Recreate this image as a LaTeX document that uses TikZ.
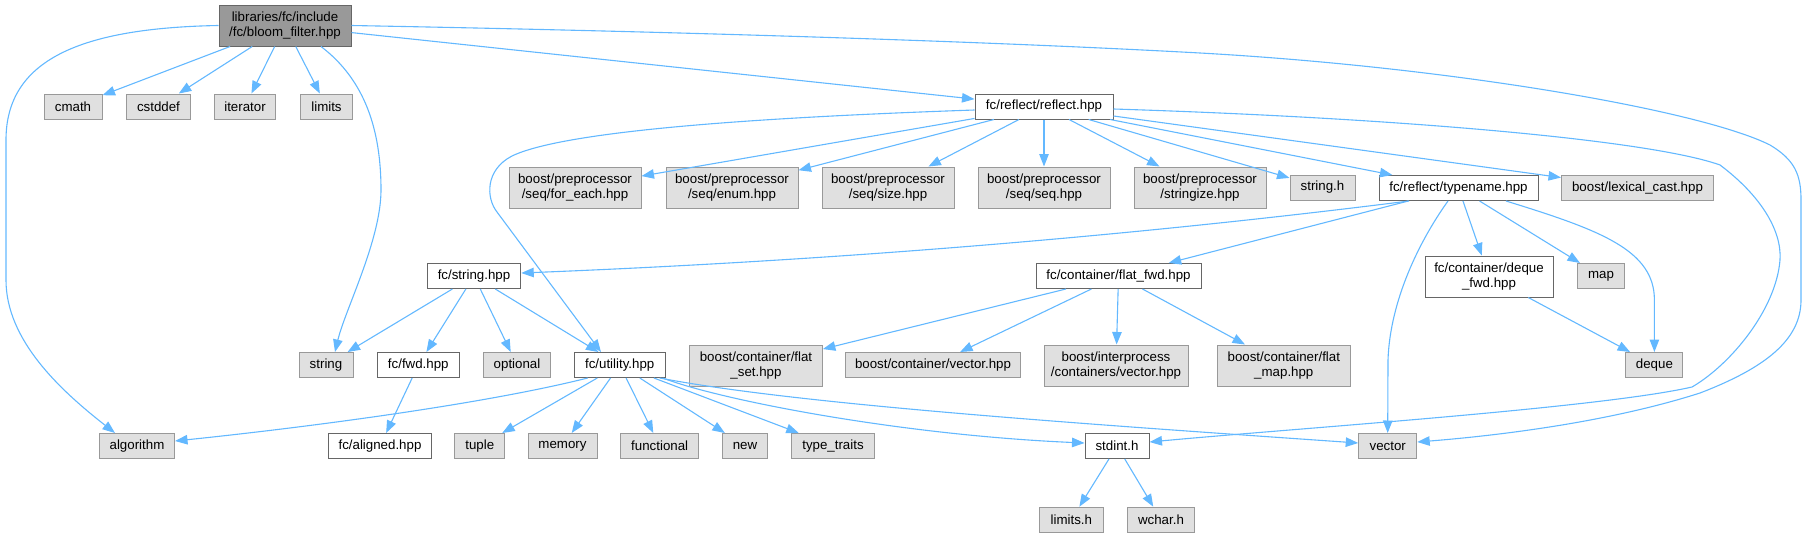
\documentclass[tikz,border=0pt]{standalone}
\usepackage{fontspec}
\setmainfont{Liberation Sans}
\usetikzlibrary{arrows.meta}
\definecolor{edgec}{HTML}{63B8FF}
\definecolor{grayfill}{HTML}{E0E0E0}
\definecolor{graybord}{HTML}{999999}
\definecolor{darkbord}{HTML}{666666}
\definecolor{mainfill}{HTML}{999999}
\begin{document}
\begin{tikzpicture}[x=1pt,y=1pt,
 base/.style={rectangle, inner sep=0pt, line width=1pt, font=\fontsize{13.3}{15.5}\selectfont, align=center, minimum height=25pt},
 ext/.style={base, fill=grayfill, draw=graybord},
 int/.style={base, fill=white, draw=darkbord},
 root/.style={base, fill=mainfill, draw=darkbord},
 two/.style={minimum height=41pt},
 dep/.style={draw=edgec, line width=1.1pt, -{Triangle[length=12.5pt,width=9.5pt]}}
]
\useasboundingbox (0,0) rectangle (1807,-538);
% nodes
\node[root,two,minimum width=132pt] (bloom) at (285,-25.5) {libraries/fc/include\\/fc/bloom\_filter.hpp};
\node[ext,minimum width=58pt] (cmath) at (73,-106.5) {cmath};
\node[ext,minimum width=64.5pt] (cstddef) at (158.5,-106.5) {cstddef};
\node[ext,minimum width=61pt] (iterator) at (245,-106.5) {iterator};
\node[ext,minimum width=52pt] (limits) at (326.5,-106.5) {limits};
\node[int,minimum width=138pt] (reflect) at (1044,-106.5) {fc/reflect/reflect.hpp};
\node[ext,two,minimum width=132pt] (foreach) at (575,-187.5) {boost/preprocessor\\/seq/for\_each.hpp};
\node[ext,two,minimum width=132pt] (enum) at (732,-187.5) {boost/preprocessor\\/seq/enum.hpp};
\node[ext,two,minimum width=132pt] (size) at (888,-187.5) {boost/preprocessor\\/seq/size.hpp};
\node[ext,two,minimum width=132pt] (seq) at (1044,-187.5) {boost/preprocessor\\/seq/seq.hpp};
\node[ext,two,minimum width=132pt] (stringize) at (1200,-187.5) {boost/preprocessor\\/stringize.hpp};
\node[ext,minimum width=65pt] (stringh) at (1322.5,-187.5) {string.h};
\node[int,minimum width=159pt] (typename) at (1458.5,-188) {fc/reflect/typename.hpp};
\node[ext,minimum width=152pt] (lexical) at (1637.5,-188) {boost/lexical\_cast.hpp};
\node[int,minimum width=93.5pt] (fcstring) at (474,-276) {fc/string.hpp};
\node[int,minimum width=165pt] (flatfwd) at (1118.5,-276) {fc/container/flat\_fwd.hpp};
\node[int,two,minimum width=128pt] (dequefwd) at (1489,-276.5) {fc/container/deque\\\_fwd.hpp};
\node[ext,minimum width=46.5pt] (map) at (1601,-276) {map};
\node[ext,minimum width=54pt] (string) at (326,-365) {string};
\node[int,minimum width=82.6pt] (fwd) at (418.3,-365) {fc/fwd.hpp};
\node[ext,minimum width=66.6pt] (optional) at (517,-365) {optional};
\node[int,minimum width=90.6pt] (utility) at (619.7,-365) {fc/utility.hpp};
\node[ext,two,minimum width=132.7pt] (flatset) at (756,-365.5) {boost/container/flat\\\_set.hpp};
\node[ext,minimum width=175pt] (cvector) at (933,-365) {boost/container/vector.hpp};
\node[ext,two,minimum width=144pt] (interproc) at (1116,-365.5) {boost/interprocess\\/containers/vector.hpp};
\node[ext,two,minimum width=132.8pt] (flatmap) at (1283.8,-365.5) {boost/container/flat\\\_map.hpp};
\node[ext,minimum width=57pt] (deque) at (1654.4,-365) {deque};
\node[ext,minimum width=75pt] (algorithm) at (137,-446) {algorithm};
\node[int,minimum width=103pt] (aligned) at (380,-446) {fc/aligned.hpp};
\node[ext,minimum width=50pt] (tuple) at (479.75,-446) {tuple};
\node[ext,minimum width=69pt] (memory) at (562.5,-446) {memory};
\node[ext,minimum width=78pt] (functional) at (659.7,-446) {functional};
\node[ext,minimum width=45pt] (new) at (745,-446) {new};
\node[ext,minimum width=82.7pt] (typetraits) at (833,-446) {type\_traits};
\node[int,minimum width=64pt] (stdint) at (1117,-446) {stdint.h};
\node[ext,minimum width=58pt] (vector) at (1387.7,-446) {vector};
\node[ext,minimum width=64pt] (limitsh) at (1071.3,-519.7) {limits.h};
\node[ext,minimum width=66.6pt] (wchar) at (1161,-519.7) {wchar.h};
% edges from bloom_filter
\draw[dep] (bloom.west) .. controls (80,-28) and (6,-60) .. (6,-140) -- (6,-280) .. controls (6,-340) and (60,-390) .. ([xshift=-22pt]algorithm.north);
\draw[dep] (bloom) -- (cmath);
\draw[dep] (bloom) -- (cstddef);
\draw[dep] (bloom) -- (iterator);
\draw[dep] (bloom) -- (limits);
\draw[dep] ([xshift=36pt]bloom.south) .. controls (365,-80) and (381,-130) .. (381,-190) .. controls (381,-240) and (345,-310) .. ([xshift=9pt]string.north);
\draw[dep] (bloom) -- (reflect);
\draw[dep] (bloom.east) .. controls (700,-32) and (1000,-42) .. (1200,-53) .. controls (1450,-67) and (1700,-110) .. (1770,-145) .. controls (1795,-160) and (1801,-175) .. (1801,-200) -- (1801,-300) .. controls (1801,-340) and (1765,-368) .. (1700,-393) .. controls (1600,-425) and (1480,-437) .. ([yshift=4pt]vector.east);
% edges from reflect
\draw[dep] ([yshift=-3.5pt]reflect.west) .. controls (800,-116) and (570,-128) .. (512,-156) .. controls (485,-170) and (486,-198) .. (497,-212) -- ([xshift=-18.7pt]utility.north);
\draw[dep] (reflect) -- (foreach);
\draw[dep] (reflect) -- (enum);
\draw[dep] (reflect) -- (size);
\draw[dep] (reflect) -- (seq);
\draw[dep] (reflect) -- (stringize);
\draw[dep] (reflect) -- (stringh);
\draw[dep] (reflect) -- (typename);
\draw[dep] (reflect) -- (lexical);
\draw[dep] ([yshift=-2.5pt]reflect.east) .. controls (1400,-118) and (1650,-140) .. (1720,-165) .. controls (1760,-195) and (1782,-230) .. (1780,-260) .. controls (1776,-310) and (1730,-365) .. (1692,-387) .. controls (1600,-408) and (1300,-428) .. ([yshift=4pt]stdint.east);
% edges from typename
\draw[dep] ([xshift=-49.5pt]typename.south) .. controls (1100,-240) and (800,-262) .. ([yshift=3pt]fcstring.east);
\draw[dep] (typename) -- (flatfwd);
\draw[dep] ([xshift=-10.5pt]typename.south) .. controls (1420,-240) and (1390,-300) .. (1388,-360) -- (vector.north);
\draw[dep] (typename) -- (dequefwd);
\draw[dep] (typename) -- (map);
\draw[dep] ([xshift=47.5pt]typename.south) .. controls (1600,-230) and (1654.4,-250) .. (1654.4,-300) -- (deque.north);
% edges from fc/string
\draw[dep] (fcstring) -- (string);
\draw[dep] (fcstring) -- (fwd);
\draw[dep] (fcstring) -- (optional);
\draw[dep] (fcstring) -- (utility);
\draw[dep] (fwd) -- (aligned);
% edges from utility
\draw[dep] ([xshift=-32pt]utility.south) .. controls (480,-405) and (300,-428) .. ([yshift=5pt]algorithm.east);
\draw[dep] (utility) -- (tuple);
\draw[dep] (utility) -- (memory);
\draw[dep] (utility) -- (functional);
\draw[dep] (utility) -- (new);
\draw[dep] (utility) -- (typetraits);
\draw[dep] ([xshift=43pt]utility.south) .. controls (720,-400) and (900,-435) .. ([yshift=3pt]stdint.west);
\draw[dep] ([xshift=40pt]utility.south) .. controls (800,-405) and (1100,-425) .. ([yshift=3pt]vector.west);
% edges from flat_fwd
\draw[dep] (flatfwd) -- (flatset);
\draw[dep] (flatfwd) -- (cvector);
\draw[dep] (flatfwd) -- (interproc);
\draw[dep] (flatfwd) -- (flatmap);
\draw[dep] (dequefwd) -- (deque);
\draw[dep] (stdint) -- (limitsh);
\draw[dep] (stdint) -- (wchar);
\end{tikzpicture}
\end{document}
